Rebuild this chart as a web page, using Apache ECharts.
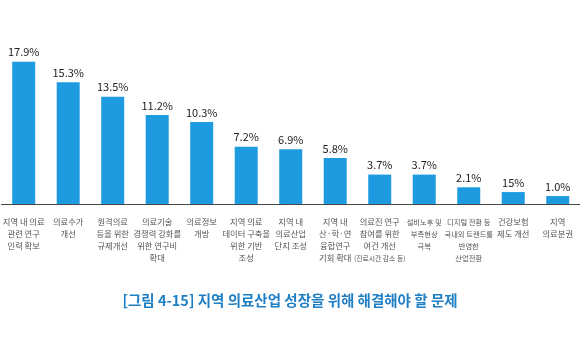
<!DOCTYPE html>
<html><head><meta charset="utf-8">
<script src="https://cdn.jsdelivr.net/npm/echarts@6/dist/echarts.min.js"></script>
<style>html,body{margin:0;padding:0;background:#fff}#c{width:580px;height:350px}</style>
</head><body><div id="c"></div>
<script>
const categories = [
  '지역 내 의료\n관련 연구\n인력 확보',
  '의료수가\n개선',
  '원격의료\n등을 위한\n규제개선',
  '의료기술\n경쟁력 강화를\n위한 연구비\n확대',
  '의료정보\n개방',
  '지역 의료\n데이터 구축을\n위한 기반\n조성',
  '지역 내\n의료산업\n단지 조성',
  '지역 내\n산·학·연\n융합연구\n기회 확대',
  '의료진 연구\n참여를 위한\n여건 개선\n{s|(진료시간 감소 등)}',
  '{n|설비노후 및}\n{n|부족현상}\n{n|극복}',
  '{n|디지털 전환 등}\n{n|국내외 트렌드를}\n{n|반영한}\n{n|산업전환}',
  '건강보험\n제도 개선',
  '지역\n의료분권'
];
const values = [17.9, 15.3, 13.5, 11.2, 10.3, 7.2, 6.9, 5.8, 3.7, 3.7, 2.1, 1.5, 1.0];
const valueLabels = ['17.9%','15.3%','13.5%','11.2%','10.3%','7.2%','6.9%','5.8%','3.7%','3.7%','2.1%','15%','1.0%'];
const title = '[그림 4-15] 지역 의료산업 성장을 위해 해결해야 할 문제';

const chart = echarts.init(document.getElementById('c'), null, {renderer:'canvas'});
chart.setOption({
  animation:false,
  backgroundColor:'#fff',
  title:{text:title,left:'center',top:288,
    textStyle:{fontFamily:'Noto Sans CJK KR',fontSize:14.5,fontWeight:'bold',color:'#1f7fc4'}},
  grid:{left:0,right:-5,top:45,bottom:146,containLabel:false},
  xAxis:{type:'category',data:categories,
    axisLine:{lineStyle:{color:'#444',width:1}},
    axisTick:{show:false},
    axisLabel:{interval:0,margin:12,fontFamily:'Noto Sans CJK KR',fontSize:8.3,lineHeight:12,color:'#555',
      rich:{s:{fontSize:6.8,fontFamily:'Noto Sans CJK KR',color:'#555',lineHeight:12},
            n:{fontSize:7.3,fontFamily:'Noto Sans CJK KR',color:'#555',lineHeight:12}}}},
  yAxis:{type:'value',min:0,max:20,show:false,splitLine:{show:false}},
  series:[{type:'bar',data:values,barWidth:23,
    itemStyle:{color:'#1e9ae0'},
    label:{show:true,position:'top',distance:4,fontFamily:'Noto Sans CJK KR',fontSize:11,color:'#222',
      formatter:p=>valueLabels[p.dataIndex]}}]
});
</script></body></html>
